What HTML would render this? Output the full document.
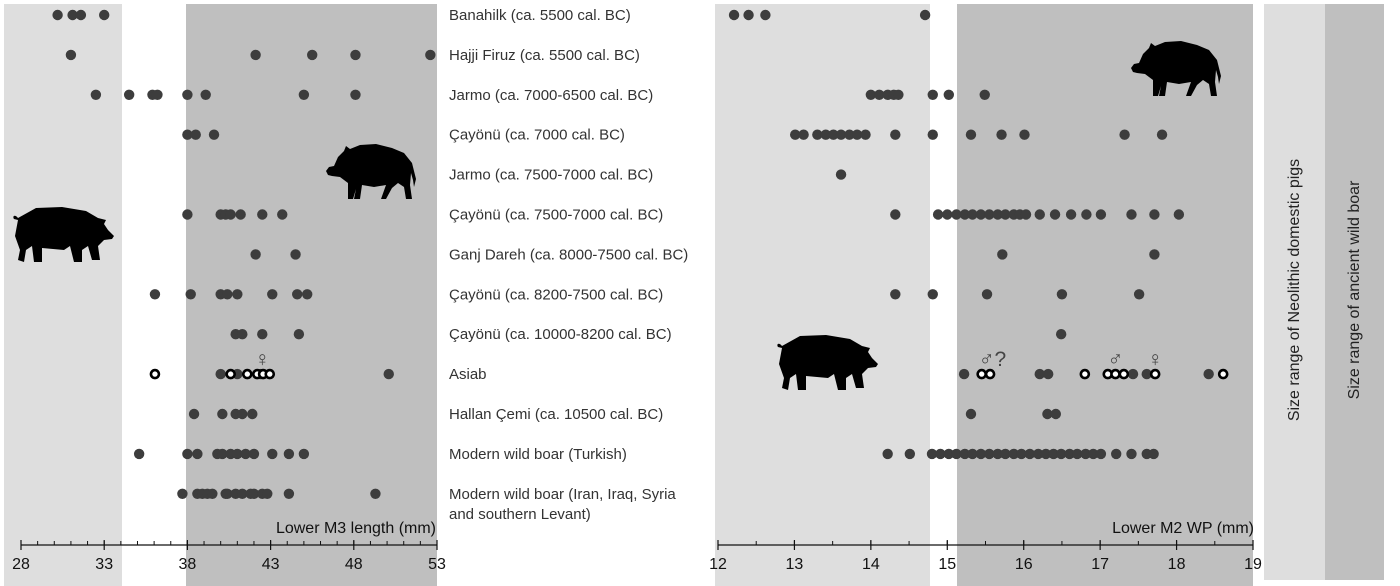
<!DOCTYPE html>
<html><head><meta charset="utf-8"><style>
body{margin:0;background:#fff;}
svg{display:block;font-family:"Liberation Sans",Arial,sans-serif;}
</style></head><body>
<svg id="chart" width="1400" height="586" viewBox="0 0 1400 586" xmlns="http://www.w3.org/2000/svg">
<rect x="4" y="4" width="118" height="582" fill="#dedede"/>
<rect x="186" y="4" width="251" height="582" fill="#bfbfbf"/>
<rect x="715" y="4" width="215" height="582" fill="#dedede"/>
<rect x="957" y="4" width="296" height="582" fill="#bfbfbf"/>
<g>
<rect x="1264" y="4" width="61" height="576" fill="#dedede"/>
<rect x="1325" y="4" width="59" height="576" fill="#bfbfbf"/>
<text transform="translate(1299,290) rotate(-90)" text-anchor="middle" font-size="16" fill="#222">Size range of Neolithic domestic pigs</text>
<text transform="translate(1359,290) rotate(-90)" text-anchor="middle" font-size="16" fill="#222">Size range of ancient wild boar</text>
</g>
<g transform="translate(326,143)">
<path d="M0,28 L3,24 L8,23 L12,14 L18,8 L20,3 L24,6 L34,2 L50,1 L66,5 L78,10 L86,20 L88,28 L90,36 L88,44 L87,37 L85,30 L84,42 L86,56 L80,56 L78,44 L72,40 L66,45 L60,56 L55,56 L60,42 L48,44 L36,42 L34,56 L28,56 L30,46 L27,56 L22,56 L22,40 L14,34 L6,33 L2,32 Z" fill="#000"/>
</g>
<g transform="translate(1131,40)">
<path d="M0,28 L3,24 L8,23 L12,14 L18,8 L20,3 L24,6 L34,2 L50,1 L66,5 L78,10 L86,20 L88,28 L90,36 L88,44 L87,37 L85,30 L84,42 L86,56 L80,56 L78,44 L72,40 L66,45 L60,56 L55,56 L60,42 L48,44 L36,42 L34,56 L28,56 L30,46 L27,56 L22,56 L22,40 L14,34 L6,33 L2,32 Z" fill="#000"/>
</g>
<g transform="translate(12,206)">
<path d="M6,12 C3,8 0,10 2,13 L6,14 L3,30 L8,44 L6,54 L12,56 L14,44 L20,40 L22,56 L30,56 L30,42 L52,44 L58,40 L62,56 L70,56 L70,44 L76,40 L80,54 L88,54 L86,40 L92,34 L100,33 L102,30 L96,24 L92,18 L94,14 L86,12 L74,5 L50,1 L24,2 Z" fill="#000"/>
</g>
<g transform="translate(776,334)">
<path d="M6,12 C3,8 0,10 2,13 L6,14 L3,30 L8,44 L6,54 L12,56 L14,44 L20,40 L22,56 L30,56 L30,42 L52,44 L58,40 L62,56 L70,56 L70,44 L76,40 L80,54 L88,54 L86,40 L92,34 L100,33 L102,30 L96,24 L92,18 L94,14 L86,12 L74,5 L50,1 L24,2 Z" fill="#000"/>
</g>
<g id="labels"></g>
<g id="marks"></g>
<g id="axes"></g>
</svg>
<script>
const siteLabels = ["Banahilk (ca. 5500 cal. BC)","Hajji Firuz (ca. 5500 cal. BC)","Jarmo (ca. 7000-6500 cal. BC)","Çayönü (ca. 7000 cal. BC)","Jarmo (ca. 7500-7000 cal. BC)","Çayönü (ca. 7500-7000 cal. BC)","Ganj Dareh (ca. 8000-7500 cal. BC)","Çayönü (ca. 8200-7500 cal. BC)","Çayönü (ca. 10000-8200 cal. BC)","Asiab","Hallan Çemi (ca. 10500 cal. BC)","Modern wild boar (Turkish)","Modern wild boar (Iran, Iraq, Syria"];
const m3Values = [
 [30.2,31.1,31.6,33.0],
 [31.0,42.1,45.5,48.1,52.6],
 [32.5,34.5,35.9,36.2,38.0,39.1,45.0,48.1],
 [38.0,38.5,39.6],
 [],
 [38.0,40.0,40.3,40.6,41.2,42.5,43.7],
 [42.1,44.5],
 [36.05,38.2,40.0,40.4,41.0,43.1,44.6,45.2],
 [40.9,41.3,42.5,44.7],
 [40.0,41.0,42.4,50.1],
 [38.4,40.1,40.9,41.3,41.9],
 [35.1,38.0,38.6,39.8,40.1,40.6,41.0,41.5,42.0,43.1,44.1,45.0],
 [37.7,38.6,38.9,39.2,39.5,40.3,40.4,40.9,41.3,41.8,42.0,42.5,42.8,44.1,49.3]
];
const m3AsiabOpen = [36.05,40.6,41.6,42.2,42.55,42.95];
const m2Values = [
 [12.21,12.40,12.62,14.71],
 [],
 [14.0,14.11,14.22,14.3,14.36,14.81,15.02,15.49],
 [13.01,13.12,13.3,13.41,13.51,13.61,13.72,13.82,13.93,14.32,14.81,15.31,15.71,16.01,17.32,17.81],
 [13.61],
 [14.32,14.88,15.0,15.12,15.23,15.33,15.44,15.55,15.66,15.76,15.87,15.95,16.03,16.21,16.41,16.62,16.82,17.01,17.41,17.71,18.03],
 [15.72,17.71],
 [14.32,14.81,15.52,16.5,17.51],
 [16.49],
 [15.22,16.21,16.32,17.43,17.61,18.42],
 [15.31,16.31,16.42],
 [14.22,14.51,14.8,14.91,15.02,15.12,15.23,15.33,15.44,15.55,15.66,15.76,15.87,15.97,16.08,16.19,16.29,16.39,16.49,16.6,16.7,16.81,16.91,17.01,17.21,17.41,17.61,17.7],
 []
];
const m2AsiabOpen = [15.45,15.56,16.8,17.1,17.2,17.31,17.72,18.61];
const m3Ticks = [28,33,38,43,48,53];
const m2Ticks = [12,13,14,15,16,17,18,19];

const NS="http://www.w3.org/2000/svg";
const xM3 = v => 21 + (v-28)*(437-21)/25;
const xM2 = v => 718 + (v-12)*(1253-718)/7;
const yRow = i => 15 + i*39.9;
function mk(tag, attrs, parent){const e=document.createElementNS(NS,tag);for(const k in attrs)e.setAttribute(k,attrs[k]);parent.appendChild(e);return e;}
const labels=document.getElementById('labels'), marks=document.getElementById('marks'), axes=document.getElementById('axes');

siteLabels.forEach((s,i)=>{
  const t=mk('text',{x:449,y:yRow(i)+5,'font-size':15,fill:'#333'},labels);
  
  
  t.textContent=s;
});
const t2=mk('text',{x:449,y:yRow(12)+25,'font-size':15,fill:'#333'},labels);


t2.textContent="and southern Levant)";

function dots(arr, xf){
  arr.forEach((vals,i)=>{
    vals.forEach(v=>{
      const c=mk('circle',{cx:xf(v),cy:yRow(i),r:5.2,fill:'#3d3d3d'},marks);
      
      
    });
  });
}
function openDots(vals, xf){
  vals.forEach(v=>{
    const c=mk('circle',{cx:xf(v),cy:yRow(9),r:4,fill:'#fff',stroke:'#000','stroke-width':2.6},marks);
    
    
  });
}
dots(m3Values,xM3); openDots(m3AsiabOpen,xM3);
dots(m2Values,xM2); openDots(m2AsiabOpen,xM2);

function sym(x,txt){
  const t=mk('text',{x:x,y:yRow(9)-8,'font-size':21,fill:'#444','text-anchor':'middle'},marks);
  
  
  t.textContent=txt;
}
sym(xM3(42.5),'♀'); sym(xM2(15.5)+7,'♂?'); sym(xM2(17.2),'♂'); sym(xM2(17.72),'♀');

function axis(xf, ticks, minorStep, title, titleX){
  const y=545, lo=ticks[0], hi=ticks[ticks.length-1];
  const l=mk('line',{x1:xf(lo),x2:xf(hi),y1:y,y2:y,stroke:'#111','stroke-width':1.2},axes);
  
  
  for(let v=lo; v<=hi+1e-9; v+=minorStep){
    const m=mk('line',{x1:xf(v),x2:xf(v),y1:y-4,y2:y,stroke:'#111','stroke-width':1},axes);
    
    
  }
  ticks.forEach(v=>{
    const m=mk('line',{x1:xf(v),x2:xf(v),y1:y-5,y2:y+5,stroke:'#111','stroke-width':1.2},axes);
    
    
    const t=mk('text',{x:xf(v),y:y+24,'font-size':16,fill:'#111','text-anchor':'middle'},axes);
    
    
    t.textContent=v;
  });
  const tt=mk('text',{x:titleX,y:y-12,'font-size':16,fill:'#111','text-anchor':'end'},axes);
  
  
  tt.textContent=title;
}
axis(xM3,m3Ticks,1,"Lower M3 length (mm)",436);
axis(xM2,m2Ticks,0.5,"Lower M2 WP (mm)",1254);
</script>
</body></html>
